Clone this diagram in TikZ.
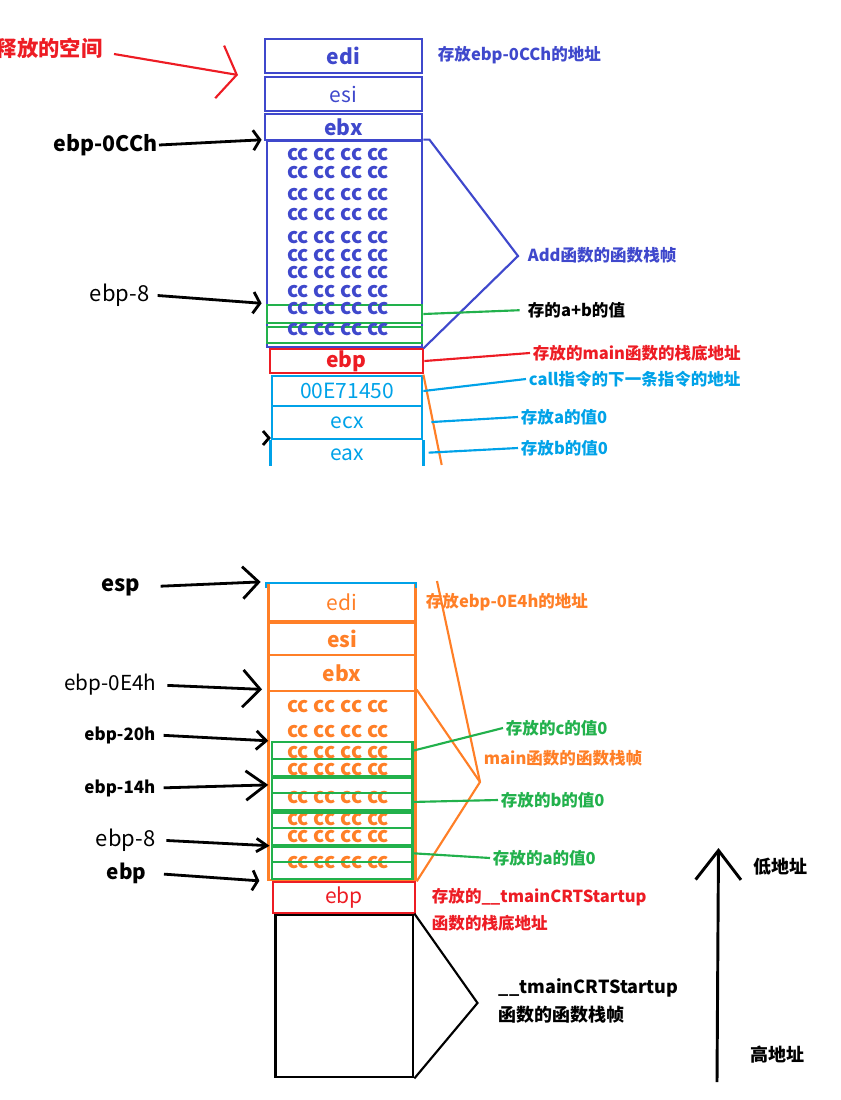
\documentclass[tikz,border=0pt]{standalone}
\usepackage{fontspec}
\setmainfont{Noto Sans CJK SC}
\usetikzlibrary{arrows.meta,positioning}
\definecolor{blueS}{RGB}{63,72,204}
\definecolor{greenS}{RGB}{34,177,76}
\definecolor{redS}{RGB}{237,28,36}
\definecolor{cyanS}{RGB}{0,162,232}
\definecolor{orangeS}{RGB}{255,127,39}

\begin{document}
\begin{tikzpicture}[x=0.75pt,y=-0.75pt,
  cell/.style={draw,line width=2.1pt,inner sep=0pt,font=\fontsize{15.75}{18}\selectfont},
  bcell/.style={cell,font=\fontsize{15.75}{18}\selectfont\bfseries},
  ccrow/.style={inner sep=0pt,font=\fontsize{15.75}{18}\selectfont\bfseries},
  note/.style={anchor=west,inner sep=2pt,font=\fontsize{12.4}{14}\selectfont\bfseries},
  tag/.style={anchor=east,inner sep=1pt,font=\fontsize{16.5}{18}\selectfont},
  wire/.style={line width=1.6pt},
  ptr/.style 2 args={line width=2.1pt,-{Straight Barb[length=#1,width=#2]}}
]
\useasboundingbox (0,0) rectangle (841,1100);

% Add function frame (top)
\node[tag,redS,font=\fontsize{16}{18}\selectfont\bfseries] (freed) at (104,48) {释放的空间};
\coordinate (freedtip) at (238,75);
\draw[redS,line width=1.6pt,-{Straight Barb[length=13pt,width=40pt]}] ([shift={(10,6)}]freed.east) -- (freedtip);

\node[bcell,blueS,minimum width=117.75pt,minimum height=25.5pt] (edi1) at (343.5,56) {edi};
\node[cell,blueS,minimum width=117.75pt,minimum height=25.5pt] (esi1) at (343.5,94) {esi};
\node[bcell,blueS,minimum width=117.75pt,minimum height=19.5pt] (ebx1) at (343.5,127) {ebx};
\node[cell,blueS,minimum width=116.25pt,minimum height=154.5pt] (cc1) at (344.5,244) {};
\node[cell,greenS,minimum width=116.25pt,minimum height=13.5pt] (sum1) at (344.5,314) {};
\node[cell,greenS,minimum width=116.25pt,minimum height=12pt] (sum2) at (344.5,335) {};
\foreach \y [count=\i] in {155,173,195,215,238,256,273,292,309,330}
  \node[ccrow,blueS] (cca\i) at (338,\y) {cc cc cc cc};

\node[bcell,redS,minimum width=114.75pt,minimum height=18pt] (ebp1) at (346.5,361) {ebp};
\node[cell,cyanS,minimum width=112.5pt,minimum height=22.5pt] (ret1) at (347,391) {00E71450};
\node[cell,cyanS,minimum width=112.5pt,minimum height=24.75pt] (ecx1) at (347,422.5) {ecx};
\node[cyanS,inner sep=0pt,font=\fontsize{15.75}{18}\selectfont] (eax1) at (347,455) {eax};
\draw[cyanS,line width=2.1pt] (ecx1.south west) -- ++(0,26);
\draw[cyanS,line width=2.1pt] (ecx1.south east) -- ++(0,26);
\coordinate (eaxr) at (422,453);

\coordinate (addtip) at (518,256);
\draw[blueS,wire] (cc1.north east) -- ++(6,0) -- (addtip) -- (cc1.south east);
\coordinate (mtop) at (441.7,465);
\draw[orangeS,wire] (ret1.north east) -- (mtop);

\node[note,blueS] (edinote1) at (435,55) {存放ebp-0CCh的地址};
\node[note,blueS] (addlbl) at (525,255) {Add函数的函数栈帧};
\node[note,black] (sumnote) at (525,310) {存的a+b的值};
\draw[greenS,wire,shorten >=4pt] (sum1.east) -- (sumnote.west);
\node[note,redS] (mainebp) at (530,353) {存放的main函数的栈底地址};
\draw[redS,wire] (ebp1.east) -- (mainebp.west);
\node[note,cyanS] (callnote) at (526,379) {call指令的下一条指令的地址};
\draw[cyanS,wire] (ret1.east) -- (callnote.west);
\node[note,cyanS] (anote1) at (518,417) {存放a的值0};
\draw[cyanS,wire,shorten <=6pt] (ecx1.east) -- (anote1.west);
\node[note,cyanS] (bnote1) at (518,448) {存放b的值0};
\draw[cyanS,wire,shorten <=5pt] (eaxr) -- (bnote1.west);

\node[tag,font=\fontsize{16}{18}\selectfont\bfseries] (p0cch) at (159,145) {ebp-0CCh};
\draw[ptr={5pt}{15pt},shorten >=3pt] (p0cch.east) -- (cc1.north west);
\node[tag] (p8a) at (151,295) {ebp-8};
\draw[ptr={5pt}{16pt},shorten <=5pt,shorten >=3pt] (p8a.east) -- (sum1.north west);
\draw[line width=2.1pt] (263,431) -- (269,438) -- (263,445);

% main function frame (bottom)
\node[cell,orangeS,minimum width=109.9pt,minimum height=28.5pt] (edi2) at (342,602) {edi};
\node[bcell,orangeS,minimum width=109.9pt,minimum height=24pt] (esi2) at (342,639) {esi};
\node[bcell,orangeS,minimum width=109.9pt,minimum height=27pt] (ebx2) at (342,673) {ebx};
\node[cell,orangeS,minimum width=109.9pt,minimum height=141.75pt] (cc2) at (342,785.5) {};
\draw[cyanS,line width=2.1pt] (266,588) -- (266,583) -- (416,583) -- (416,588);
\foreach \y [count=\i] in {707,732,753,770,798,820,837,863}
  \node[ccrow,orangeS] (ccb\i) at (338,\y) {cc cc cc cc};
\foreach \i in {1,...,8}
  \node[cell,greenS,line width=1.6pt,minimum width=105.4pt,minimum height=12.84pt] (gs\i) at (342.25,{742+17.125*(\i-0.5)}) {};
\foreach \i in {2,4,6}
  \draw[greenS,line width=3pt] (gs\i.south west) -- (gs\i.south east);

\coordinate (mstart) at (437,581);
\coordinate (mtip) at (480,782);
\draw[orangeS,wire] (mstart) -- (mtip) -- (cc2.south east);
\draw[orangeS,wire] (cc2.north east) -- (mtip);

\node[note,orangeS] (edinote2) at (423,602) {存放ebp-0E4h的地址};
\node[note,orangeS] (mainlbl) at (481,758) {main函数的函数栈帧};
\node[note,greenS] (cnote) at (503,728) {存放的c的值0};
\draw[greenS,wire] (gs1.east) -- (cnote.west);
\node[note,greenS] (bnote2) at (498,800) {存放的b的值0};
\draw[greenS,wire] (gs4.east) -- (bnote2.west);
\node[note,greenS] (anote2) at (490,858) {存放的a的值0};
\draw[greenS,wire] (gs7.east) -- (anote2.west);

\node[tag,font=\fontsize{16.5}{18}\selectfont\bfseries] (pesp) at (142,587) {esp};
\draw[ptr={12pt}{24pt},shorten <=14pt,shorten >=5pt] (pesp.east) -- (edi2.north west);
\node[tag,font=\fontsize{15.5}{18}\selectfont] (p0e4h) at (158,685) {ebp-0E4h};
\draw[ptr={13pt}{28pt},shorten <=7pt,shorten >=4pt] (p0e4h.east) -- (cc2.north west);
\node[tag,font=\fontsize{12.75}{15}\selectfont\bfseries] (p20h) at (157,735) {ebp-20h};
\draw[ptr={7.5pt}{14pt},shorten <=5pt,shorten >=2pt] (p20h.east) -- (gs1.north west);
\node[tag,font=\fontsize{12.75}{15}\selectfont\bfseries] (p14h) at (157,788) {ebp-14h};
\draw[ptr={15pt}{22pt},shorten <=5pt,shorten >=2pt] (p14h.east) -- (gs3.west);
\node[tag] (p8b) at (157,840) {ebp-8};
\draw[ptr={8pt}{10pt},shorten <=7pt,shorten >=1pt] (p8b.east) -- (gs6.south west);
\node[tag,font=\fontsize{15.5}{18}\selectfont\bfseries] (pebp) at (148,873) {ebp};
\draw[ptr={4pt}{15pt},shorten <=12pt,shorten >=6pt] (pebp.east) -- (cc2.south west);

% caller frame
\node[cell,redS,minimum width=106.5pt,minimum height=23.25pt] (ebp2) at (344,897.5) {ebp};
\node[note,redS,align=left,font=\fontsize{12.4}{20.25}\selectfont\bfseries] (crtebp) at (429,909.6) {存放的\_\_tmainCRTStartup\\函数的栈底地址};
\node[cell,black,minimum width=103pt,minimum height=121.5pt] (crt) at (344.3,996) {};
\coordinate (crttip) at (477.5,1003);
\draw[wire] (crt.north east) -- (crttip) -- (crt.south east);
\node[note,align=left,font=\fontsize{13.5}{21}\selectfont\bfseries] (crtlbl) at (496,1001) {\_\_tmainCRTStartup\\函数的函数栈帧};

% address direction
\coordinate (hiaddr) at (717,1082);
\coordinate (loaddr) at (718.5,848);
\draw[line width=2.2pt,-{Straight Barb[length=22pt,width=34pt]}] (hiaddr) -- (loaddr);
\node[note,font=\fontsize{13.5}{15}\selectfont\bfseries] (lowlbl) at (751,866.7) {低地址};
\node[note,font=\fontsize{13.5}{15}\selectfont\bfseries] (highlbl) at (748,1055) {高地址};
\end{tikzpicture}
\end{document}
